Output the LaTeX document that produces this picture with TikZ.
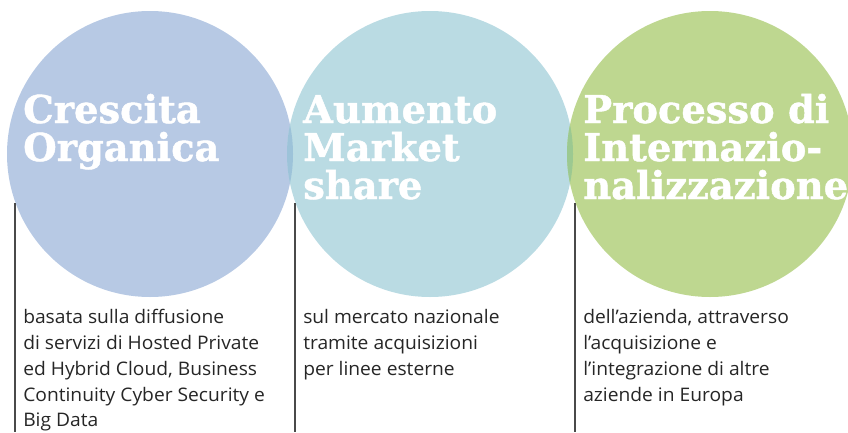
\documentclass[tikz,border=0pt]{standalone}
\usepackage{fontspec}
\usepackage{tikz}

\newfontfamily\headfont[FakeBold=1.2]{DejaVu Serif}
\newfontfamily\bodyfont[FakeStretch=1.03]{Open Sans}

\definecolor{crescita}{HTML}{B7C9E4}
\definecolor{mercato}{HTML}{BADBE3}
\definecolor{estero}{HTML}{BED790}
\definecolor{lensA}{HTML}{9DC3D9}
\definecolor{lensB}{HTML}{9CC991}
\definecolor{stemcol}{HTML}{4A4A4A}
\definecolor{bodycol}{HTML}{262626}

\tikzset{
  headtext/.style={anchor=base west, inner sep=0pt, align=left, text=white,
    font=\headfont\bfseries\fontsize{28.8}{28.5}\selectfont},
  bodytext/.style={anchor=base west, inner sep=0pt, align=left, text=bodycol,
    font=\bodyfont\fontsize{14}{19.3}\selectfont},
  stem/.style={draw=stemcol, line width=0.9pt}
}

\begin{document}
\begin{tikzpicture}[x=0.75pt,y=0.75pt,yscale=-1,xscale=1]
\useasboundingbox (0,0) rectangle (848,432);
\clip (0,0) rectangle (848,432);

%Shape: Circle
\fill[crescita] (150,154) circle (143);
%Shape: Circle
\fill[mercato] (430,154) circle (143);
%Shape: Circle
\fill[estero] (710,154) circle (143);

%Overlaps
\begin{scope}
  \clip (150,154) circle (143);
  \fill[lensA] (430,154) circle (143);
\end{scope}
\begin{scope}
  \clip (430,154) circle (143);
  \fill[lensB] (710,154) circle (143);
\end{scope}

%Straight Lines
\coordinate (stemA) at (15,203);
\coordinate (stemAend) at (15,432);
\draw[stem] (stemA) -- (stemAend);
%Straight Lines
\coordinate (stemB) at (295,203);
\coordinate (stemBend) at (295,432);
\draw[stem] (stemB) -- (stemBend);
%Straight Lines
\coordinate (stemC) at (575,203);
\coordinate (stemCend) at (575,432);
\draw[stem] (stemC) -- (stemCend);

% Text Node (anchored on last baseline)
\node[headtext] (headA) at (23,161) {Crescita\\Organica};
% Text Node
\node[headtext] (headB) at (303,199) {Aumento\\Market\\share};
% Text Node
\node[headtext] (headC) at (583,199) {Processo di\\Internazio-\\nalizzazione};

% Text Node
\node[bodytext] (bodyA) at (23,426.8) {basata sulla diffusione\\di servizi di Hosted Private\\ed Hybrid Cloud, Business\\Continuity Cyber Security e\\Big Data};
% Text Node
\node[bodytext] (bodyB) at (303,375.4) {sul mercato nazionale\\tramite acquisizioni\\per linee esterne};
% Text Node
\node[bodytext] (bodyC) at (583,401.1) {dell’azienda, attraverso\\l’acquisizione e\\l’integrazione di altre\\aziende in Europa};

\end{tikzpicture}
\end{document}
